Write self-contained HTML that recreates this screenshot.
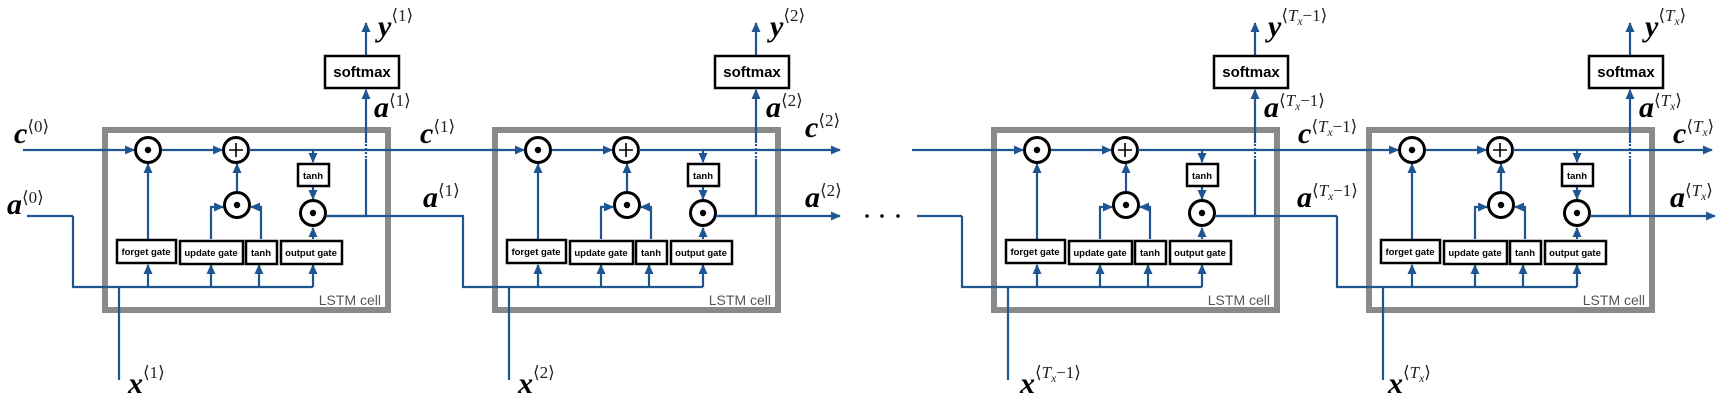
<!DOCTYPE html>
<html><head><meta charset="utf-8"><style>
html,body{margin:0;padding:0;background:#fff}
svg{display:block}
.l{fill:none;stroke:#1f5591;stroke-width:2.2}
.box{fill:#fff;stroke:#000;stroke-width:2.5}
.cb{fill:none;stroke:#898a8c;stroke-width:6}
.c{fill:#fff;stroke:#000;stroke-width:3}
.g{font-family:"Liberation Sans",sans-serif;font-weight:bold;font-size:9.5px;fill:#000;text-anchor:middle}
.sm{font-family:"Liberation Sans",sans-serif;font-weight:bold;font-size:15px;fill:#000;text-anchor:middle}
.lc{font-family:"Liberation Sans",sans-serif;font-size:14px;fill:#555;text-anchor:end}
.v{font-family:"Liberation Serif",serif;font-style:italic;font-weight:bold;font-size:30px;fill:#000}
.s{font-family:"Liberation Serif","DejaVu Serif",serif;font-style:normal;font-weight:normal;font-size:17px;fill:#222}
.si{font-style:italic}
.sx{font-style:italic;font-size:11.5px}
</style></head><body>
<svg width="1720" height="408" viewBox="0 0 1720 408" xmlns="http://www.w3.org/2000/svg">
<defs>
<marker id="ar" markerUnits="userSpaceOnUse" markerWidth="10" markerHeight="10" refX="9" refY="5" orient="auto"><path d="M0,0.5 L10,5 L0,9.5 z" fill="#1f5591"/></marker>
<g id="cell">
<rect class="cb" x="105" y="130" width="283" height="180"/>
<path class="l" d="M161 150 H222" marker-end="url(#ar)"/>
<path class="l" d="M73 216 V287 H313"/>
<path class="l" d="M119 287 V380"/>
<path class="l" d="M148 287 V265" marker-end="url(#ar)"/>
<path class="l" d="M211 287 V265" marker-end="url(#ar)"/>
<path class="l" d="M259 287 V265" marker-end="url(#ar)"/>
<path class="l" d="M313 287 V265" marker-end="url(#ar)"/>
<path class="l" d="M148 239 V164" marker-end="url(#ar)"/>
<path class="l" d="M211 239 V207 H223" marker-end="url(#ar)"/>
<path class="l" d="M261 239 V207 H251" marker-end="url(#ar)"/>
<path class="l" d="M237 191 V164" marker-end="url(#ar)"/>
<path class="l" d="M313 150 V162" marker-end="url(#ar)"/>
<path class="l" d="M313 186 V199" marker-end="url(#ar)"/>
<path class="l" d="M313 239 V228" marker-end="url(#ar)"/>
<path class="l" d="M326 216 H366 V159"/>
<path class="l" d="M366 158 V143" stroke-dasharray="2,2"/>
<path class="l" d="M366 143 V90" marker-end="url(#ar)"/>
<path class="l" d="M366 56 V23" marker-end="url(#ar)"/>
<circle class="c" cx="148" cy="150" r="12.5"/><circle cx="148" cy="150" r="3.2"/>
<circle class="c" cx="236" cy="150" r="12.5"/><path d="M229 150 H243 M236 143 V157" stroke="#000" stroke-width="1.6"/>
<circle class="c" cx="237" cy="205" r="12.5"/><circle cx="237" cy="205" r="3.2"/>
<circle class="c" cx="313" cy="213" r="12.5"/><circle cx="313" cy="213" r="3.2"/>
<rect class="box" x="298" y="164" width="31" height="22"/>
<rect class="box" x="117" y="240" width="59" height="23"/>
<rect class="box" x="180" y="241" width="63" height="23"/>
<rect class="box" x="246" y="241" width="31" height="23"/>
<rect class="box" x="281" y="241" width="61" height="23"/>
<rect class="box" x="325" y="56" width="74" height="32"/>
<text class="g" x="313" y="179">tanh</text>
<text class="g" x="146" y="255">forget gate</text>
<text class="g" x="211" y="256">update gate</text>
<text class="g" x="261" y="256">tanh</text>
<text class="g" x="311" y="256">output gate</text>
<text class="sm" x="362" y="77">softmax</text>
<text class="lc" x="381" y="305">LSTM cell</text>
</g>
</defs>
<use href="#cell"/>
<use href="#cell" transform="translate(390,0)"/>
<use href="#cell" transform="translate(889,0)"/>
<use href="#cell" transform="translate(1264,0)"/>
<path class="l" d="M23 150 H134" marker-end="url(#ar)"/>
<path class="l" d="M249 150 H524" marker-end="url(#ar)"/>
<path class="l" d="M639 150 H840" marker-end="url(#ar)"/>
<path class="l" d="M912 150 H1023" marker-end="url(#ar)"/>
<path class="l" d="M1138 150 H1398" marker-end="url(#ar)"/>
<path class="l" d="M1513 150 H1712" marker-end="url(#ar)"/>
<path class="l" d="M27 216 H73"/>
<path class="l" d="M326 216 H464"/>
<path class="l" d="M716 216 H840" marker-end="url(#ar)"/>
<path class="l" d="M917 216 H962"/>
<path class="l" d="M1215 216 H1337"/>
<path class="l" d="M1590 216 H1715" marker-end="url(#ar)"/>
<circle cx="867" cy="216" r="1.8"/><circle cx="882" cy="216" r="1.8"/><circle cx="898" cy="216" r="1.8"/>
<text class="v" x="14" y="143">c<tspan class="s" dy="-11">⟨0⟩</tspan></text>
<text class="v" x="7" y="214">a<tspan class="s" dy="-11">⟨0⟩</tspan></text>
<text class="v" x="378" y="36">y<tspan class="s" dy="-15">⟨1⟩</tspan></text>
<text class="v" x="374" y="117">a<tspan class="s" dy="-11">⟨1⟩</tspan></text>
<text class="v" x="420" y="143">c<tspan class="s" dy="-11">⟨1⟩</tspan></text>
<text class="v" x="423" y="207">a<tspan class="s" dy="-11">⟨1⟩</tspan></text>
<text class="v" x="128" y="393">x<tspan class="s" dy="-15">⟨1⟩</tspan></text>
<text class="v" x="770" y="36">y<tspan class="s" dy="-15">⟨2⟩</tspan></text>
<text class="v" x="766" y="117">a<tspan class="s" dy="-11">⟨2⟩</tspan></text>
<text class="v" x="805" y="137">c<tspan class="s" dy="-11">⟨2⟩</tspan></text>
<text class="v" x="805" y="207">a<tspan class="s" dy="-11">⟨2⟩</tspan></text>
<text class="v" x="518" y="393">x<tspan class="s" dy="-15">⟨2⟩</tspan></text>
<text class="v" x="1268" y="36">y<tspan class="s" dy="-15">⟨<tspan class="si">T</tspan><tspan class="sx" dy="4">x</tspan><tspan dy="-4">−1⟩</tspan></tspan></text>
<text class="v" x="1264" y="117">a<tspan class="s" dy="-11">⟨<tspan class="si">T</tspan><tspan class="sx" dy="4">x</tspan><tspan dy="-4">−1⟩</tspan></tspan></text>
<text class="v" x="1298" y="143">c<tspan class="s" dy="-11">⟨<tspan class="si">T</tspan><tspan class="sx" dy="4">x</tspan><tspan dy="-4">−1⟩</tspan></tspan></text>
<text class="v" x="1297" y="207">a<tspan class="s" dy="-11">⟨<tspan class="si">T</tspan><tspan class="sx" dy="4">x</tspan><tspan dy="-4">−1⟩</tspan></tspan></text>
<text class="v" x="1020" y="393">x<tspan class="s" dy="-15">⟨<tspan class="si">T</tspan><tspan class="sx" dy="4">x</tspan><tspan dy="-4">−1⟩</tspan></tspan></text>
<text class="v" x="1645" y="36">y<tspan class="s" dy="-15">⟨<tspan class="si">T</tspan><tspan class="sx" dy="4">x</tspan><tspan dy="-4">⟩</tspan></tspan></text>
<text class="v" x="1639" y="117">a<tspan class="s" dy="-11">⟨<tspan class="si">T</tspan><tspan class="sx" dy="4">x</tspan><tspan dy="-4">⟩</tspan></tspan></text>
<text class="v" x="1673" y="143">c<tspan class="s" dy="-11">⟨<tspan class="si">T</tspan><tspan class="sx" dy="4">x</tspan><tspan dy="-4">⟩</tspan></tspan></text>
<text class="v" x="1670" y="207">a<tspan class="s" dy="-11">⟨<tspan class="si">T</tspan><tspan class="sx" dy="4">x</tspan><tspan dy="-4">⟩</tspan></tspan></text>
<text class="v" x="1388" y="393">x<tspan class="s" dy="-15">⟨<tspan class="si">T</tspan><tspan class="sx" dy="4">x</tspan><tspan dy="-4">⟩</tspan></tspan></text>
</svg>
</body></html>
